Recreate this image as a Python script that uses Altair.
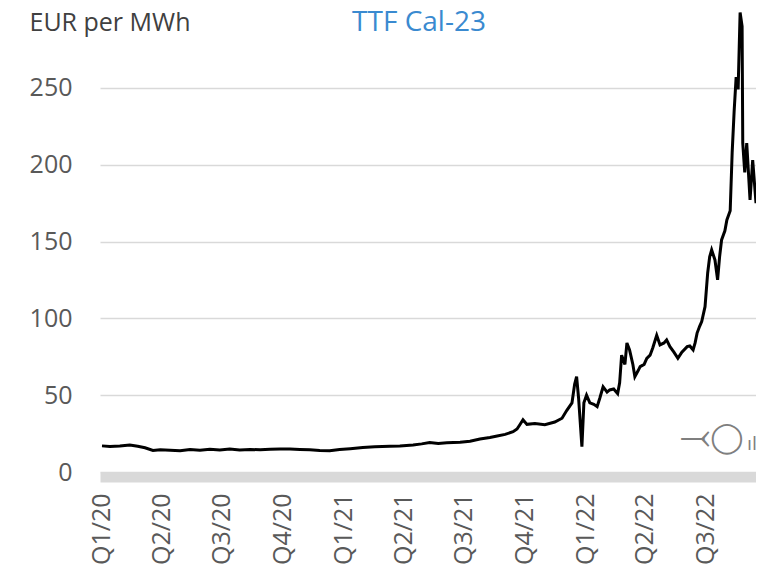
import altair as alt
import pandas as pd

# ---- data (TTF Cal-23, EUR per MWh) ----
dates = [
    "2020-01-02", "2020-01-14", "2020-01-29", "2020-02-13", "2020-02-25", "2020-03-07",
    "2020-03-19", "2020-03-30", "2020-04-14", "2020-04-29", "2020-05-14", "2020-05-29",
    "2020-06-13", "2020-06-28", "2020-07-13", "2020-07-28", "2020-08-13", "2020-08-28",
    "2020-09-12", "2020-09-27", "2020-10-12", "2020-10-27", "2020-11-11", "2020-11-26",
    "2020-12-11", "2020-12-26", "2021-01-11", "2021-01-30", "2021-02-17", "2021-03-12",
    "2021-03-27", "2021-04-16", "2021-04-29", "2021-05-11", "2021-05-24", "2021-06-06",
    "2021-06-26", "2021-07-11", "2021-07-26", "2021-08-10", "2021-08-21", "2021-09-02",
    "2021-09-14", "2021-09-20", "2021-09-24", "2021-09-29", "2021-10-05", "2021-10-17",
    "2021-11-01", "2021-11-16", "2021-11-27", "2021-12-04", "2021-12-12", "2021-12-16",
    "2021-12-19", "2021-12-22", "2021-12-27", "2021-12-30", "2022-01-03", "2022-01-08",
    "2022-01-14", "2022-01-19", "2022-01-23", "2022-01-28", "2022-02-03", "2022-02-07",
    "2022-02-13", "2022-02-19", "2022-02-22", "2022-02-25", "2022-03-02", "2022-03-05",
    "2022-03-09", "2022-03-14", "2022-03-17", "2022-03-22", "2022-03-25", "2022-03-31",
    "2022-04-04", "2022-04-09", "2022-04-13", "2022-04-19", "2022-04-24", "2022-04-30",
    "2022-05-04", "2022-05-09", "2022-05-15", "2022-05-21", "2022-05-27", "2022-06-04",
    "2022-06-08", "2022-06-13", "2022-06-16", "2022-06-19", "2022-06-23", "2022-06-26",
    "2022-07-01", "2022-07-05", "2022-07-08", "2022-07-11", "2022-07-16", "2022-07-20",
    "2022-07-23", "2022-07-26", "2022-07-31", "2022-08-03", "2022-08-08", "2022-08-11",
    "2022-08-14", "2022-08-17", "2022-08-20", "2022-08-23", "2022-08-26", "2022-08-27",
    "2022-08-30", "2022-09-02", "2022-09-07", "2022-09-11", "2022-09-16", "2022-09-22",
    "2022-09-25", "2022-09-28",
]
prices = [
    17.0, 16.6, 16.9, 17.6, 16.8, 15.8,
    14.0, 14.5, 14.2, 13.9, 14.6, 14.2,
    14.8, 14.3, 14.9, 14.3, 14.6, 14.5,
    14.8, 14.9, 15.0, 14.7, 14.4, 14.0,
    13.8, 14.6, 15.2, 16.0, 16.4, 16.8,
    17.0, 17.6, 18.3, 19.2, 18.5, 19.0,
    19.3, 20.0, 21.5, 22.5, 23.4, 24.5,
    26.2, 28.0, 30.6, 34.0, 31.0, 31.5,
    30.8, 32.5, 35.0, 40.0, 45.0, 57.0,
    62.0, 48.0, 16.5, 45.0, 50.0, 45.0,
    44.0, 42.5, 48.0, 55.5, 52.0, 53.4,
    54.0, 51.0, 58.0, 76.0, 70.0, 84.0,
    79.5, 70.0, 62.0, 66.0, 68.6, 70.0,
    74.0, 76.0, 80.7, 89.0, 82.7, 84.0,
    86.0, 81.6, 78.0, 74.0, 78.0, 81.6,
    82.0, 79.5, 84.0, 90.4, 95.0, 97.9,
    107.6, 129.5, 140.0, 144.5, 138.0, 125.0,
    140.0, 151.0, 157.0, 164.0, 170.0, 208.0,
    235.0, 257.0, 249.0, 299.0, 290.0, 214.0,
    195.0, 214.0, 177.0, 203.0, 175.0, 190.0,
    198.0, 170.0,
]
tick_dates = ["2020-01-01", "2020-04-01", "2020-07-01", "2020-10-01",
              "2021-01-01", "2021-04-01", "2021-07-01", "2021-10-01",
              "2022-01-01", "2022-04-01", "2022-07-01"]
y_ticks = [0, 50, 100, 150, 200, 250]
chart_title = "TTF Cal-23"
unit_label = "EUR per MWh"
logo_parts = ["\u2919", "\u25EF", "\u0131l"]

df = pd.DataFrame({"date": dates, "price": prices})

def to_dt(s):
    y, m, d = (int(p) for p in s.split("-"))
    return alt.DateTime(year=y, month=m, date=d)

FONT = "Open Sans"

line = alt.Chart(df).mark_line(color="black", strokeWidth=3, clip=True).encode(
    x=alt.X(
        "date:T",
        scale=alt.Scale(domain=[to_dt("2019-12-30"), to_dt("2022-09-16")]),
        axis=alt.Axis(
            values=[to_dt(s) for s in tick_dates],
            labelExpr="'Q' + quarter(datum.value) + '/' + timeFormat(datum.value, '%y')",
            labelAngle=-90,
            labelAlign="right",
            labelBaseline="middle",
            labelPadding=16,
            labelFont=FONT,
            labelFontSize=25,
            labelColor="#595959",
            ticks=False,
            grid=False,
            domainColor="#d9d9d9",
            domainWidth=10,
            offset=5,
            title=None,
            labelOverlap=False,
        ),
    ),
    y=alt.Y(
        "price:Q",
        scale=alt.Scale(domain=[0, 300], nice=False, zero=True),
        axis=alt.Axis(
            values=y_ticks,
            labelPadding=28,
            labelFont=FONT,
            labelFontSize=25,
            labelColor="#595959",
            ticks=False,
            domain=False,
            grid=True,
            gridColor="#d9d9d9",
            gridWidth=1.6,
            title=unit_label,
            titleAngle=0,
            titleAlign="left",
            titleBaseline="alphabetic",
            titleX=-71,
            titleY=19,
            titleFont=FONT,
            titleFontSize=25,
            titleFontWeight="normal",
            titleColor="#404040",
        ),
    ),
)

title_layer = alt.Chart(pd.DataFrame({"t": [chart_title]})).mark_text(
    font=FONT, fontSize=28, color="#3a8ad0", align="center", baseline="middle"
).encode(text="t:N", x=alt.value(319), y=alt.value(12))

logo_df = pd.DataFrame({"t": logo_parts, "px": [580, 610, 647], "fs": [38, 30, 18], "py": [427, 427, 434]})
logo_layer = alt.Chart(logo_df).mark_text(
    font="DejaVu Sans", color="#7f7f7f", align="left", baseline="middle"
).encode(
    text="t:N",
    x=alt.X("px:Q", scale=None),
    y=alt.Y("py:Q", scale=None),
    size=alt.Size("fs:Q", scale=None, legend=None),
)

chart = alt.layer(line, title_layer, logo_layer).properties(
    width=656,
    height=461,
    autosize=alt.AutoSizeParams(type="none"),
    padding={"left": 92, "top": 3, "right": 0, "bottom": 97},
    background="white",
).configure_view(stroke=None)

chart.save("out.html", embed_options={"renderer": "svg", "actions": False})
